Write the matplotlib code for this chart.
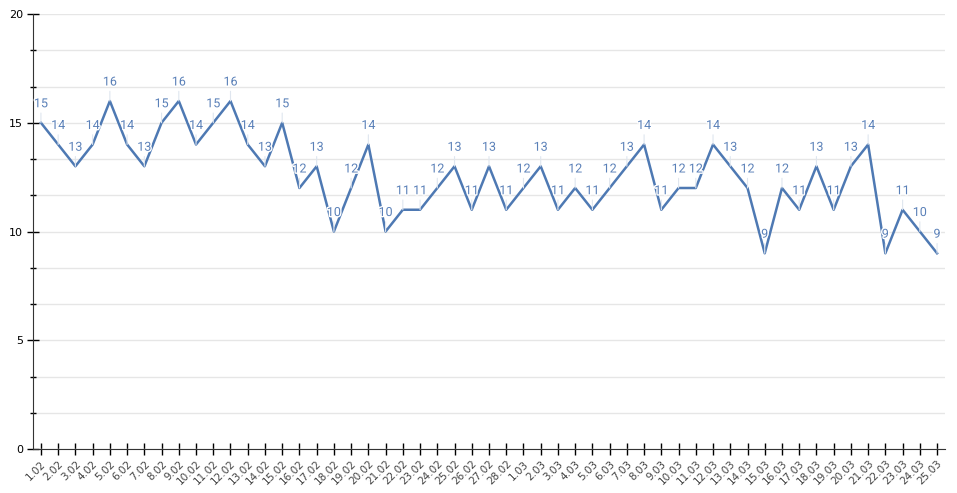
import numpy as np
import matplotlib
matplotlib.use("Agg")
from matplotlib import pyplot as plt
from matplotlib import patheffects
from matplotlib.ticker import MultipleLocator

# Datoer og værdier
dates = [f"{d}.02" for d in range(1, 29)] + [f"{d}.03" for d in range(1, 26)]
values = [15, 14, 13, 14, 16, 14, 13, 15, 16, 14, 15, 16, 14, 13, 15, 12, 13, 10,
          12, 14, 10, 11, 11, 12, 13, 11, 13, 11, 12, 13, 11, 12, 11, 12, 13, 14,
          11, 12, 12, 14, 13, 12, 9, 12, 11, 13, 11, 13, 14, 9, 11, 10, 9]

line_color = "#4e79b3"
label_color = "#5a80b8"

fig = plt.figure(figsize=(9.57, 4.93), dpi=100)
ax = fig.add_axes([33 / 957, 44 / 493, 912 / 957, 435 / 493])

x = np.arange(len(values))
ax.plot(x, values, color=line_color, linewidth=1.8, zorder=3)

# Værdier over punkterne med en tynd streg ned
halo = [patheffects.withStroke(linewidth=2, foreground="white")]
for xi, v in zip(x, values):
    ax.annotate(
        str(v),
        xy=(xi, v),
        xytext=(0, 9),
        textcoords="offset points",
        ha="center",
        va="bottom",
        fontsize=9,
        family="Roboto",
        color=label_color,
        path_effects=halo,
        arrowprops=dict(arrowstyle="-", color="#dfe6ef", lw=0.8,
                        shrinkA=0, shrinkB=0),
        zorder=4,
    )

ax.set_xlim(-0.46, len(values) - 1 + 0.46)
ax.set_ylim(0, 20)

ax.yaxis.set_major_locator(MultipleLocator(5))
ax.yaxis.set_minor_locator(MultipleLocator(5 / 3))
ax.grid(True, which="both", axis="y", color="#e6e6e6", linewidth=1, zorder=0)
ax.set_axisbelow(True)

ax.set_xticks(x)
ax.set_xticklabels(dates, rotation=45, ha="right", rotation_mode="anchor",
                   fontsize=7.5, color="#444444")
ax.tick_params(axis="x", direction="inout", length=8, width=1, pad=3)
ax.tick_params(axis="y", which="major", direction="inout", length=8, width=1,
               labelsize=8, pad=3)
ax.tick_params(axis="y", which="minor", direction="inout", length=5, width=1)

for side in ["top", "right"]:
    ax.spines[side].set_visible(False)
ax.spines["left"].set_color("#333333")
ax.spines["bottom"].set_color("#333333")

fig.savefig("out.png", dpi=100)
